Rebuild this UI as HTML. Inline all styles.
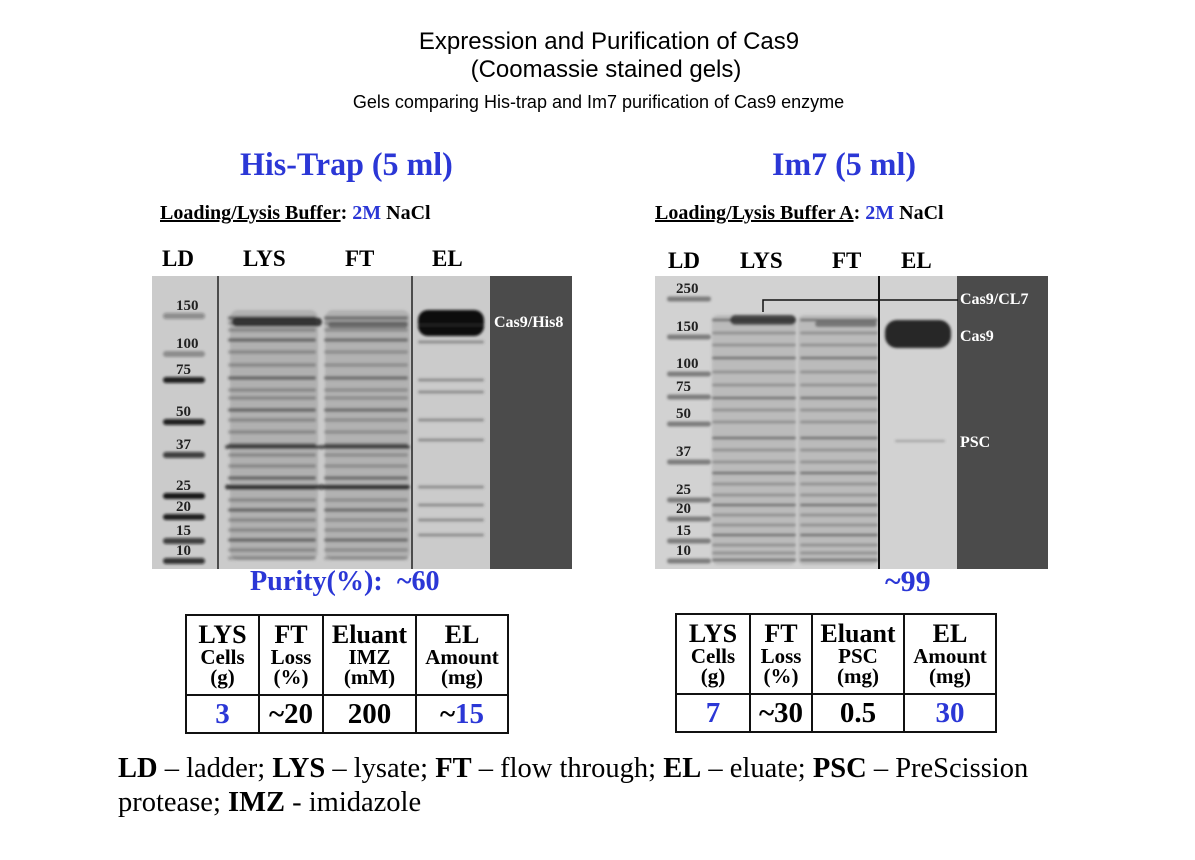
<!DOCTYPE html>
<html><head><meta charset="utf-8">
<style>
body{margin:0;background:#fff;width:1195px;height:860px;position:relative;overflow:hidden;font-family:"Liberation Sans",sans-serif}
.a{position:absolute;white-space:nowrap}
.s{font-family:"Liberation Serif",serif;font-weight:bold}
.b{color:#2b37d6}
table{position:absolute;border-collapse:collapse;font-family:"Liberation Serif",serif;font-weight:bold;text-align:center}
td{border:2px solid #111;padding:0;line-height:19px}
.h1{font-size:26px;line-height:24px}
.h2{font-size:21px;line-height:20px}
.v{font-size:29px;height:36px}
</style></head><body>
<div class="a" style="left:0;width:1218px;text-align:center;top:28px;font-size:24px">Expression and Purification of Cas9</div>
<div class="a" style="left:0;width:1212px;text-align:center;top:56px;font-size:24px">(Coomassie stained gels)</div>
<div class="a" style="left:0;width:1197px;text-align:center;top:92px;font-size:18px">Gels comparing His-trap and Im7 purification of Cas9 enzyme</div>

<div class="a s b" style="left:240px;top:147px;font-size:33px;transform:scaleX(.97);transform-origin:left">His-Trap (5 ml)</div>
<div class="a s b" style="left:772px;top:147px;font-size:33px;transform:scaleX(.97);transform-origin:left">Im7 (5 ml)</div>
<div class="a s" style="left:160px;top:202px;font-size:20px;transform:scaleX(1.0);transform-origin:left"><u>Loading/Lysis Buffer</u>: <span class="b">2M</span> NaCl</div>
<div class="a s" style="left:655px;top:202px;font-size:20px;transform:scaleX(1.0);transform-origin:left"><u>Loading/Lysis Buffer A</u>: <span class="b">2M</span> NaCl</div>

<svg id="g" class="a" style="left:0;top:0" width="1195" height="860">
<defs><filter id="bl"><feGaussianBlur stdDeviation="1.2"/></filter></defs>
<g font-family="Liberation Serif,serif" font-weight="bold" font-size="23">
<text x="162" y="266">LD</text><text x="243" y="266">LYS</text><text x="345" y="266">FT</text><text x="432" y="266">EL</text>
<text x="668" y="268">LD</text><text x="740" y="268">LYS</text><text x="832" y="268">FT</text><text x="901" y="268">EL</text>
</g>
<rect x="152" y="276" width="420" height="293" fill="#cbcbcb"/>
<rect x="655" y="276" width="393" height="293" fill="#d2d2d2"/>
<g id="bands" filter="url(#bl)"></g>
<rect x="490" y="276" width="82" height="293" fill="#4b4b4b"/>
<rect x="957" y="276" width="91" height="293" fill="#4b4b4b"/>
<line x1="218" y1="276" x2="218" y2="569" stroke="#222" stroke-width="1.5"/>
<line x1="412" y1="276" x2="412" y2="569" stroke="#222" stroke-width="1.5"/>
<line x1="879" y1="276" x2="879" y2="569" stroke="#111" stroke-width="2"/>
<polyline points="763,312 763,300 958,300" fill="none" stroke="#111" stroke-width="1.5"/>
<g id="lbl" font-family="Liberation Serif,serif" font-weight="bold" font-size="15" fill="#222"></g>
<g font-family="Liberation Serif,serif" font-weight="bold" font-size="16" fill="#fff">
<text x="494" y="327">Cas9/His8</text><text x="960" y="304">Cas9/CL7</text><text x="960" y="341">Cas9</text><text x="960" y="447">PSC</text>
</g>
</svg>
<script>
const ladderL=[150,100,75,50,37,25,20,15,10];
const ladderLY=[312,350,376,418,451,492,513,537,557];
const ladderLDark=[.35,.3,.9,.9,.75,.95,.9,.75,.8];
const ladderR=[250,150,100,75,50,37,25,20,15,10];
const ladderRY=[295,333,370,393,420,458,496,515,537,557];
const lysL=[318,323,330,340,352,365,378,390,398,410,420,432,445,455,466,478,488,500,510,520,530,540,550,558];
const elL=[325,342,380,392,420,440,487,505,520,535];
const lysR=[320,333,345,358,372,385,398,410,422,438,450,462,473,484,495,505,515,525,535,545,553,560];
const NS='http://www.w3.org/2000/svg';
const G=document.getElementById('bands'),L=document.getElementById('lbl');
function band(x,y,w,h,c,o,rx){const r=document.createElementNS(NS,'rect');r.setAttribute('x',x);r.setAttribute('y',y-h/2);r.setAttribute('width',w);r.setAttribute('height',h);r.setAttribute('rx',rx||h/2);r.setAttribute('fill',c);r.setAttribute('opacity',o);


G.appendChild(r);}
function txt(x,y,t){const e=document.createElementNS(NS,'text');e.setAttribute('x',x);e.setAttribute('y',y);e.textContent=t;


L.appendChild(e);}
// lane smear (centre y, height)
band(230,435,88,250,'#9a9a9a',.55,8);band(325,435,85,250,'#9a9a9a',.5,8);
band(712,440,84,250,'#a0a0a0',.45,6);band(798,440,80,250,'#a0a0a0',.45,6);
ladderL.forEach((k,i)=>{band(163,ladderLY[i]+4,42,6,'#111',ladderLDark[i]);txt(176,ladderLY[i]-2,k);});
ladderR.forEach((k,i)=>{band(667,ladderRY[i]+4,44,5,'#444',.6);txt(676,ladderRY[i]-2,k);});
lysL.forEach((y,i)=>{const o=(i%3==0)?.55:.3;band(228,y,88,4,'#333',o);band(324,y,84,4,'#333',o*.9);});
band(232,322,90,9,'#222',.85);band(328,325,80,6,'#333',.5);
band(225,487,185,5,'#222',.8);band(225,447,185,4,'#222',.7);
band(418,323,66,26,'#0a0a0a',1,10);
elL.forEach(y=>band(418,y,66,3,'#444',.45));
lysR.forEach((y,i)=>{const o=(i%3==0)?.5:.3;band(712,y,84,3,'#333',o);band(800,y,78,3,'#333',o);});
band(730,320,66,10,'#222',.75);band(815,324,62,6,'#333',.5);
band(885,334,66,28,'#1a1a1a',.95,12);band(895,441,50,2,'#555',.4);
</script>

<div class="a s b" style="left:250px;top:565px;font-size:29px;transform:scaleX(.97);transform-origin:left">Purity(%): &nbsp;~60</div>
<div class="a s b" style="left:885px;top:565px;font-size:30px">~99</div>

<table style="left:185px;top:614px;width:324px;height:118px">
<tr style="height:80px"><td style="width:71px"><div class="h1">LYS</div><div class="h2">Cells<br>(g)</div></td><td style="width:62px"><div class="h1">FT</div><div class="h2">Loss<br>(%)</div></td><td style="width:91px"><div class="h1">Eluant</div><div class="h2">IMZ<br>(mM)</div></td><td><div class="h1">EL</div><div class="h2">Amount<br>(mg)</div></td></tr>
<tr><td class="v b">3</td><td class="v">~20</td><td class="v">200</td><td class="v">~<span class="b">15</span></td></tr></table>

<table style="left:675px;top:613px;width:322px;height:118px">
<tr style="height:80px"><td style="width:72px"><div class="h1">LYS</div><div class="h2">Cells<br>(g)</div></td><td style="width:60px"><div class="h1">FT</div><div class="h2">Loss<br>(%)</div></td><td style="width:90px"><div class="h1">Eluant</div><div class="h2">PSC<br>(mg)</div></td><td><div class="h1">EL</div><div class="h2">Amount<br>(mg)</div></td></tr>
<tr><td class="v b">7</td><td class="v">~30</td><td class="v">0.5</td><td class="v b">30</td></tr></table>

<div class="a" style="left:118px;top:752px;font-family:'Liberation Serif',serif;font-size:28.5px;line-height:34px;white-space:normal;width:1000px"><b>LD</b> – ladder; <b>LYS</b> – lysate; <b>FT</b> – flow through; <b>EL</b> – eluate; <b>PSC</b> – PreScission<br>protease; <b>IMZ</b> - imidazole</div>
</body></html>
